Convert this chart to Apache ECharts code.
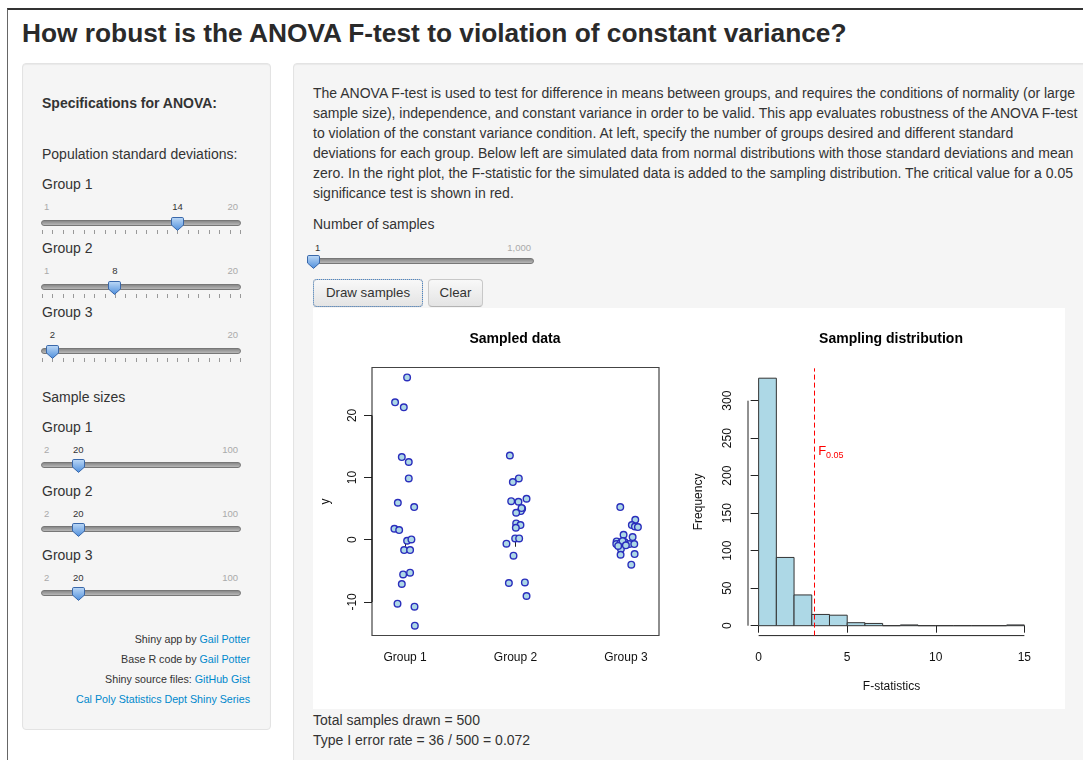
<!DOCTYPE html>
<html>
<head>
<meta charset="utf-8">
<title>How robust is the ANOVA F-test to violation of constant variance?</title>
<script src="https://cdn.jsdelivr.net/npm/echarts@6.0.0/dist/echarts.min.js"></script>
<style>
  html, body { margin: 0; padding: 0; background: #fff; }
  body { width: 1083px; height: 760px; overflow: hidden; position: relative;
         font-family: "Liberation Sans", Arial, sans-serif; color: #333; font-size: 14px; }
  .t { position: absolute; white-space: nowrap; line-height: 20px; }
  .b { font-weight: bold; }
  #frame { position: absolute; left: 7px; top: 8px; width: 1100px; height: 800px;
           border-top: 2px solid #333; border-left: 1px solid #666; }
  #title { position: absolute; left: 22px; top: 17px; margin: 0; white-space: nowrap;
           font-size: 26.3px; line-height: 32px; font-weight: bold; color: #2a2a2a; }
  .well { position: absolute; background: #f5f5f5; border: 1px solid #e3e3e3; border-radius: 4px;
          box-shadow: inset 0 1px 1px rgba(0,0,0,.05); box-sizing: border-box; }
  #side { left: 22px; top: 63px; width: 249px; height: 667px; }
  #main { left: 293px; top: 63px; width: 820px; height: 760px; }
  .track { position: absolute; height: 6px; box-sizing: border-box; border-radius: 3px;
           border: 1px solid #777; background: linear-gradient(#888, #b8b8b8); }
  .num { position: absolute; font-size: 9.5px; line-height: 12px; color: #aaa; white-space: nowrap; }
  .num.val { color: #333; }
  .tick { position: absolute; width: 1px; height: 4px; background: #999; }
  .thumb { position: absolute; width: 13px; height: 14px; }
  #credits { position: absolute; left: 22px; width: 228px; top: 629px; text-align: right;
             font-size: 10.7px; line-height: 20px; color: #333; }
  #credits a { color: #0088cc; text-decoration: none; }
  .btn { position: absolute; top: 279px; height: 28px; box-sizing: border-box; border: 1px solid #c8c8c8;
         border-bottom-color: #b3b3b3; border-radius: 4px; background: linear-gradient(#f8f8f8, #e4e4e4);
         font-size: 13.3px; line-height: 26px; text-align: center; color: #333; }
  #draw { left: 313px; width: 110px; outline: 1px dotted #4a86c8; outline-offset: -1px; }
  #clear { left: 428px; width: 55px; }
  #plot { position: absolute; left: 313px; top: 308px; width: 752px; height: 401px; background: #fff; }
</style>
</head>
<body>
<div id="frame"></div>
<h2 id="title">How robust is the ANOVA F-test to violation of constant variance?</h2>
<div class="well" id="side"></div>
<div class="well" id="main"></div>

<div class="t b" style="left:42px;top:93px;">Specifications for ANOVA:</div>
<div class="t" style="left:42px;top:144px;">Population standard deviations:</div>
<div class="t" style="left:42px;top:387px;">Sample sizes</div>
<div id="sliders"></div>

<div id="credits">
  Shiny app by <a href="#">Gail Potter</a><br>
  Base R code by <a href="#">Gail Potter</a><br>
  Shiny source files: <a href="#">GitHub Gist</a><br>
  <a href="#">Cal Poly Statistics Dept Shiny Series</a>
</div>

<div class="t" style="left:313px;top:83px;">
The ANOVA F-test is used to test for difference in means between groups, and requires the conditions of normality (or large<br>
sample size), independence, and constant variance in order to be valid. This app evaluates robustness of the ANOVA F-test<br>
to violation of the constant variance condition. At left, specify the number of groups desired and different standard<br>
deviations for each group. Below left are simulated data from normal distributions with those standard deviations and mean<br>
zero. In the right plot, the F-statistic for the simulated data is added to the sampling distribution. The critical value for a 0.05<br>
significance test is shown in red.
</div>
<div class="t" style="left:313px;top:214px;">Number of samples</div>
<div class="btn" id="draw">Draw samples</div>
<div class="btn" id="clear">Clear</div>

<div id="plot"></div>
<div class="t" id="summary" style="left:313px;top:710px;"></div>

<script>
// ---- data ----
const groupNames = ['Group 1', 'Group 2', 'Group 3'];
const groupPositions = [1, 2, 3];

// jittered x, y for each group
const group1Points = [
  [1.018, 26.1], [0.909, 22.1], [0.988, 21.3], [0.970, 13.3], [1.033, 12.5],
  [1.033, 9.86], [0.934, 5.95], [1.082, 5.25], [0.903, 1.77], [0.946, 1.55],
  [1.018, -0.16], [1.057, 0.05], [0.991, -1.66], [1.045, -1.66], [0.982, -5.57],
  [1.045, -5.30], [0.970, -7.12], [0.931, -10.28], [1.085, -10.77], [1.088, -13.82]
];
const group2Points = [
  [1.949, 13.55], [2.030, 9.86], [1.976, 9.27], [2.100, 6.59], [1.961, 6.21],
  [2.027, 6.11], [2.060, 4.98], [2.048, 4.61], [2.006, 4.34], [2.055, 5.10],
  [2.006, 2.62], [2.045, 2.36], [2.003, 1.93], [1.997, 0.21], [2.033, 0.21],
  [1.918, -0.64], [1.982, -2.57], [1.940, -6.96], [2.085, -6.86], [2.100, -9.05]
];
const group3Points = [
  [2.949, 5.25], [3.085, 3.21], [3.054, 2.36], [3.082, 2.13], [3.109, 2.04],
  [2.979, 0.80], [3.061, 0.43], [2.916, -0.27], [2.988, -0.37], [2.913, -0.69],
  [2.952, -0.53], [3.031, -0.69], [3.076, -0.69], [2.955, -1.49], [2.952, -2.41],
  [3.079, -2.30], [3.049, -4.01], [2.970, -0.20], [3.000, -0.90], [2.930, -1.00]
];
const scatterYTicks = [-10, 0, 10, 20];

// histogram of F statistics
const binEdges = [0, 1, 2, 3, 4, 5, 6, 7, 8, 9, 10, 11, 12, 13, 14, 15];
const histCounts = [330, 91, 41, 15, 14, 4, 3, 0, 1, 0, 0, 0, 0, 0, 1];
const histXTicks = [0, 5, 10, 15];
const histYTicks = [0, 50, 100, 150, 200, 250, 300];
const fCrit = 3.16;

const samplesDrawn = 500;
const rejections = 36;

// slider widgets
const sdSliders = [
  { label: 'Group 1', min: 1, max: 20, value: 14 },
  { label: 'Group 2', min: 1, max: 20, value: 8 },
  { label: 'Group 3', min: 1, max: 20, value: 2 }
];
const sizeSliders = [
  { label: 'Group 1', min: 2, max: 100, value: 20 },
  { label: 'Group 2', min: 2, max: 100, value: 20 },
  { label: 'Group 3', min: 2, max: 100, value: 20 }
];
const samplesSlider = { min: 1, max: 1000, value: 1 };

// ---- sliders (plain html) ----
const holder = document.getElementById('sliders');
function mk(cls, left, top, text) {
  const d = document.createElement('div');
  d.className = cls;
  d.style.left = left + 'px';
  d.style.top = top + 'px';
  if (text !== undefined) d.textContent = text;
  holder.appendChild(d);
  return d;
}
const thumbSvg = '<svg width="13" height="14" viewBox="0 0 13 14"><defs><linearGradient id="tg" x1="0" y1="0" x2="0" y2="1">' +
  '<stop offset="0" stop-color="#bcd8f6"/><stop offset="1" stop-color="#4f8fdc"/></linearGradient></defs>' +
  '<path d="M1.8,0.5 H11.2 Q12.5,0.5 12.5,1.8 V8 L6.5,13.4 L0.5,8 V1.8 Q0.5,0.5 1.8,0.5 Z" fill="url(#tg)" stroke="#3a68aa" stroke-width="1"/></svg>';

function slider(s, x0, x1, numY, trackY, tickY) {
  const pos = v => x0 + (v - s.min) / (s.max - s.min) * (x1 - x0);
  const fmt = v => v.toLocaleString('en-US');
  const tx = pos(s.value);
  const tr = mk('track', x0 - 1, trackY - 3);
  tr.style.width = (x1 - x0 + 2) + 'px';
  if (tickY !== undefined) {
    for (let v = s.min; v <= s.max; v++) mk('tick', Math.round(pos(v)), tickY);
  }
  if (tx - x0 > 16) mk('num', x0 + 2, numY - 6, fmt(s.min));
  const mx = mk('num', 0, numY - 6, fmt(s.max));
  mx.style.left = 'auto';
  mx.style.right = (1083 - x1 + 2) + 'px';
  const vl = mk('num val', tx, numY - 6, fmt(s.value));
  if (tx - x0 < 8) vl.style.left = (x0 + 2) + 'px';
  else vl.style.transform = 'translateX(-50%)';
  const th = mk('thumb', tx - 6.5, trackY - 6);
  th.innerHTML = thumbSvg;
}

sdSliders.forEach((s, i) => {
  const c = 184 + 64 * i;
  mk('t', 42, c - 10, s.label);
  slider(s, 42, 240, c + 22.5, c + 38.5, c + 45.5);
});
sizeSliders.forEach((s, i) => {
  const c = 427 + 64 * i;
  mk('t', 42, c - 10, s.label);
  slider(s, 42, 240, c + 23, c + 38);
});
slider(samplesSlider, 313, 533, 247.5, 261);

document.getElementById('summary').innerHTML =
  'Total samples drawn = ' + samplesDrawn + '<br>Type I error rate = ' + rejections + ' / ' + samplesDrawn +
  ' = ' + (rejections / samplesDrawn).toFixed(3);

// ---- the two R plots ----
const FONT = '"Liberation Sans", Arial, sans-serif';
const scatterXMin = 0.7, scatterXMax = 3.3;
const scatterYMin = -15.4, scatterYMax = 27.7;
const histXMin = -0.6, histXMax = 15.6;
const histYMin = -13.2, histYMax = 343.2;

const tickLine = { color: '#222', width: 1 };
const labelStyle = { fontFamily: FONT, fontSize: 12, color: '#111' };
const nameStyle = { fontFamily: FONT, fontSize: 12, color: '#111' };
const pointFill = '#add8e6';
const pointEdge = '#2a2ebc';

const histData = histCounts.map((c, i) => [binEdges[i], binEdges[i + 1], c]);

function renderBar(params, api) {
  const p0 = api.coord([api.value(0), 0]);
  const p1 = api.coord([api.value(1), api.value(2)]);
  return {
    type: 'rect',
    shape: { x: p0[0], y: p1[1], width: p1[0] - p0[0], height: p0[1] - p1[1] },
    style: { fill: '#add8e6', stroke: '#333', lineWidth: 1 }
  };
}

const option = {
  backgroundColor: '#fff',
  animation: false,
  textStyle: { fontFamily: FONT },
  title: [
    { text: 'Sampled data', left: 202, top: 24, textAlign: 'center', padding: 0,
      textStyle: { fontFamily: FONT, fontSize: 14, fontWeight: 'bold', color: '#000' } },
    { text: 'Sampling distribution', left: 578, top: 24, textAlign: 'center', padding: 0,
      textStyle: { fontFamily: FONT, fontSize: 14, fontWeight: 'bold', color: '#000' } }
  ],
  grid: [
    { left: 59, top: 59.5, width: 287, height: 268, show: true, borderColor: '#444', borderWidth: 1.2,
      backgroundColor: 'transparent', outerBoundsMode: 'none' },
    { left: 435, top: 60.3, width: 287, height: 267.3, outerBoundsMode: 'none' }
  ],
  xAxis: [
    { gridIndex: 0, type: 'value', min: scatterXMin, max: scatterXMax,
      axisLine: { show: false }, splitLine: { show: false },
      axisTick: { show: true, customValues: groupPositions, length: 7, lineStyle: tickLine },
      axisLabel: Object.assign({ customValues: groupPositions, margin: 16,
        formatter: v => groupNames[Math.round(v) - 1] }, labelStyle) },
    { gridIndex: 1, type: 'value', min: histXMin, max: histXMax,
      axisLine: { show: false }, splitLine: { show: false },
      axisTick: { show: true, customValues: histXTicks, length: 7, lineStyle: tickLine },
      axisLabel: Object.assign({ customValues: histXTicks, margin: 16 }, labelStyle),
      name: 'F-statistics', nameLocation: 'middle', nameGap: 45, nameTextStyle: nameStyle,
      nameMoveOverlap: false }
  ],
  yAxis: [
    { gridIndex: 0, type: 'value', min: scatterYMin, max: scatterYMax,
      axisLine: { show: false }, splitLine: { show: false },
      axisTick: { show: true, customValues: scatterYTicks, length: 8, lineStyle: tickLine },
      axisLabel: Object.assign({ customValues: scatterYTicks, rotate: 90, margin: 13 }, labelStyle),
      name: 'y', nameLocation: 'middle', nameGap: 40, nameRotate: 90, nameTextStyle: nameStyle,
      nameMoveOverlap: false },
    { gridIndex: 1, type: 'value', min: histYMin, max: histYMax,
      axisLine: { show: false }, splitLine: { show: false },
      axisTick: { show: true, customValues: histYTicks, length: 8, lineStyle: tickLine },
      axisLabel: Object.assign({ customValues: histYTicks, rotate: 90, margin: 14 }, labelStyle),
      name: 'Frequency', nameLocation: 'middle', nameGap: 43, nameRotate: 90, nameTextStyle: nameStyle,
      nameMoveOverlap: false }
  ],
  series: [
    // y axis line of the strip chart (drawn over the box, tick range only)
    { type: 'line', xAxisIndex: 0, yAxisIndex: 0, silent: true, clip: false, symbol: 'none',
      data: [[scatterXMin, scatterYTicks[0]], [scatterXMin, scatterYTicks[scatterYTicks.length - 1]]],
      lineStyle: { color: '#111', width: 1.2 } },
    ...[group1Points, group2Points, group3Points].map(pts => ({
      type: 'scatter', xAxisIndex: 0, yAxisIndex: 0, data: pts, symbol: 'circle', symbolSize: 6.6,
      itemStyle: { color: pointFill, borderColor: pointEdge, borderWidth: 1.4, opacity: 1 }
    })),
    { type: 'custom', xAxisIndex: 1, yAxisIndex: 1, data: histData, clip: false,
      encode: { x: [0, 1], y: 2 }, renderItem: renderBar },
    // histogram axis lines, tick range only (as R draws them)
    { type: 'line', xAxisIndex: 1, yAxisIndex: 1, silent: true, clip: false, symbol: 'none',
      data: [[histXTicks[0], histYMin], [histXTicks[histXTicks.length - 1], histYMin]],
      lineStyle: { color: '#222', width: 1 },
      markLine: {
        silent: true, symbol: ['none', 'none'], label: { show: false },
        lineStyle: { color: '#ff0000', type: [5, 3], width: 1 },
        data: [{ xAxis: fCrit }]
      },
      markPoint: {
        silent: true, symbol: 'circle', symbolSize: 0,
        data: [{ coord: [fCrit + 0.2, 232] }],
        label: {
          show: true, position: 'right', distance: 0,
          formatter: '{f|F}{s|0.05}',
          rich: {
            f: { fontFamily: FONT, fontSize: 13, color: '#ff0000', lineHeight: 16 },
            s: { fontFamily: FONT, fontSize: 9, color: '#ff0000', lineHeight: 11, verticalAlign: 'bottom' }
          }
        }
      } },
    { type: 'line', xAxisIndex: 1, yAxisIndex: 1, silent: true, clip: false, symbol: 'none',
      data: [[histXMin, histYTicks[0]], [histXMin, histYTicks[histYTicks.length - 1]]],
      lineStyle: { color: '#222', width: 1 } }
  ]
};

const chart = echarts.init(document.getElementById('plot'));
chart.setOption(option);
</script>
</body>
</html>
